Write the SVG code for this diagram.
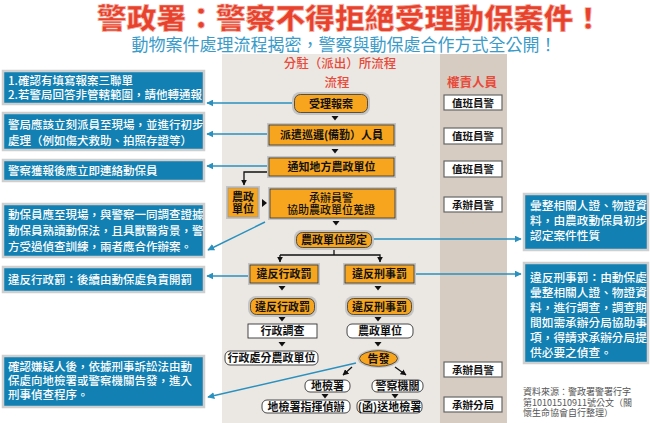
<svg xmlns="http://www.w3.org/2000/svg" width="650" height="423" viewBox="0 0 650 423">
<defs>
<style>
text{font-family:"Noto Sans CJK TC","Noto Sans CJK SC",sans-serif;}
.title{font-size:28px;font-weight:900;fill:#e8412c;stroke:#f3b3a8;stroke-width:0.7;}
.sub{font-size:17px;fill:#3a9bc9;}
.head{font-size:12.5px;fill:#e84a3a;font-weight:500;}
.bt{font-size:11.5px;fill:#fff;font-weight:500;}
.nt{font-size:11px;font-weight:700;fill:#111;text-anchor:middle;}
.rt{font-size:10.5px;font-weight:700;fill:#111;text-anchor:middle;}
.src{font-size:9px;fill:#555;}
.blue{fill:#1280b2;stroke:#cfcfcf;stroke-width:2.5;}
.halo{fill:#c4c4c4;}
.org{fill:#f7a51e;stroke:#333;stroke-width:0.8;}
.wht{fill:#fff;stroke:#333;stroke-width:0.9;}
.rbox{fill:#fff;stroke:#666;stroke-width:1.2;}
.bl{stroke:#2a91bf;stroke-width:1.4;fill:none;marker-end:url(#ab);}
.kl{stroke:#111;stroke-width:1.3;fill:none;marker-end:url(#ak);}
</style>
<marker id="ab" viewBox="0 0 10 10" refX="9" refY="5" markerWidth="7" markerHeight="7" markerUnits="userSpaceOnUse" orient="auto"><path d="M0,0 L10,5 L0,10 Z" fill="#2a91bf"/></marker>
<marker id="ak" viewBox="0 0 10 10" refX="9" refY="5" markerWidth="6" markerHeight="6" markerUnits="userSpaceOnUse" orient="auto"><path d="M0,0 L10,5 L0,10 Z" fill="#111"/></marker>
<path id="tri" d="M-3.5,0 L3.5,0 L0,4.5 Z" fill="#111"/>
</defs>
<rect width="650" height="423" fill="#fff"/>
<rect x="222" y="54" width="218" height="369" fill="#ebe8e4"/>
<rect x="440" y="54" width="67" height="369" fill="#d6ccc2"/>
<text class="title" x="97" y="29" textLength="506" lengthAdjust="spacingAndGlyphs">警政署：警察不得拒絕受理動保案件！</text>
<text class="sub" x="344" y="50.5" text-anchor="middle">動物案件處理流程揭密，警察與動保處合作方式全公開！</text>
<text class="head" x="340" y="68" text-anchor="middle">分駐（派出）所流程</text>
<text class="head" x="337" y="86.5" text-anchor="middle">流程</text>
<text class="head" x="472" y="86.5" text-anchor="middle" style="font-weight:700">權責人員</text>

<g id="connectors">
<line class="bl" x1="293" y1="103" x2="207" y2="103"/>
<line class="bl" x1="268" y1="134" x2="207" y2="134"/>
<line class="bl" x1="268" y1="166" x2="207" y2="166"/>
<line class="bl" x1="265" y1="222" x2="208" y2="250"/>
<line class="bl" x1="249" y1="276" x2="207" y2="276"/>
<line class="bl" x1="356" y1="363" x2="208" y2="397"/>
<line class="bl" x1="373" y1="239" x2="521" y2="239"/>
<line class="bl" x1="415" y1="274" x2="521" y2="274"/>
<polyline class="kl" points="268,172 244,172 244,185"/>
<line x1="334" y1="249" x2="334" y2="255" stroke="#111" stroke-width="1.3"/>
<polyline class="kl" points="280,255 380,255 380,262"/>
<line class="kl" x1="280" y1="255" x2="280" y2="262"/>
<line class="kl" x1="352" y1="367" x2="343" y2="375"/>
<line class="kl" x1="395" y1="367" x2="406" y2="375"/>
<use href="#tri" x="335" y="116"/>
<use href="#tri" x="335" y="149"/>
<use href="#tri" x="336" y="221"/>
<path d="M262,199 L267,203 L262,207 Z" fill="#111"/>
<use href="#tri" x="282" y="286"/>
<use href="#tri" x="378" y="286"/>
<use href="#tri" x="282" y="317"/>
<use href="#tri" x="378" y="317"/>
<use href="#tri" x="282" y="342"/>
<use href="#tri" x="378" y="342"/>
<use href="#tri" x="325" y="394"/>
<use href="#tri" x="395" y="394"/>
</g>

<g id="note1"><rect class="blue" x="3" y="71" width="201" height="33"/>
<text class="bt" x="8" y="85">1.確認有填寫報案三聯單</text>
<text class="bt" x="8" y="99">2.若警局回答非管轄範圍，請他轉通報</text></g>
<g id="note2"><rect class="blue" x="3" y="113" width="201" height="37"/>
<text class="bt" x="8" y="129">警局應該立刻派員至現場，並進行初步</text>
<text class="bt" x="8" y="145">處理（例如傷犬救助、拍照存證等）</text></g>
<g id="note3"><rect class="blue" x="3" y="160" width="201" height="21"/>
<text class="bt" x="8" y="174.5">警察獲報後應立即連絡動保員</text></g>
<g id="note4"><rect class="blue" x="3" y="204" width="201" height="53"/>
<text class="bt" x="8" y="219">動保員應至現場，與警察一同調查證據</text>
<text class="bt" x="8" y="235">動保員熟讀動保法，且具獸醫背景，警</text>
<text class="bt" x="8" y="251">方受過偵查訓練，兩者應合作辦案。</text></g>
<g id="note5"><rect class="blue" x="3" y="267" width="201" height="25"/>
<text class="bt" x="8" y="283.5">違反行政罰：後續由動保處負責開罰</text></g>
<g id="note6"><rect class="blue" x="3" y="356" width="201" height="51"/>
<text class="bt" x="8" y="371">確認嫌疑人後，依據刑事訴訟法由動</text>
<text class="bt" x="8" y="385">保處向地檢署或警察機關告發，進入</text>
<text class="bt" x="8" y="399">刑事偵查程序。</text></g>

<g id="note7"><rect class="blue" x="524" y="194" width="124" height="56"/>
<text class="bt" x="530" y="209.5" style="font-size:11.7px">彙整相關人證、物證資</text>
<text class="bt" x="530" y="224.5" style="font-size:11.7px">料，由農政動保員初步</text>
<text class="bt" x="530" y="239.5" style="font-size:11.7px">認定案件性質</text></g>
<g id="note8"><rect class="blue" x="524" y="263" width="124" height="100"/>
<text class="bt" x="530" y="282" style="font-size:11.7px">違反刑事罰：由動保處</text>
<text class="bt" x="530" y="297" style="font-size:11.7px">彙整相關人證、物證資</text>
<text class="bt" x="530" y="312" style="font-size:11.7px">料，進行調查，調查期</text>
<text class="bt" x="530" y="327" style="font-size:11.7px">間如需承辦分局協助事</text>
<text class="bt" x="530" y="342" style="font-size:11.7px">項，得請求承辦分局提</text>
<text class="bt" x="530" y="356.5" style="font-size:11.7px">供必要之偵查。</text></g>
<g id="source">
<text class="src" x="523" y="395">資料來源：警政署警署行字</text>
<text class="src" x="523" y="405.5">第10101510911號公文（關</text>
<text class="src" x="523" y="416">懷生命協會自行整理）</text></g>

<g id="r1"><rect class="rbox" x="444" y="95" width="58" height="15"/><text class="rt" x="473" y="106.5">值班員警</text></g>
<g id="r2"><rect class="rbox" x="444" y="128" width="58" height="16"/><text class="rt" x="473" y="140">值班員警</text></g>
<g id="r3"><rect class="rbox" x="444" y="161" width="58" height="16"/><text class="rt" x="473" y="173">值班員警</text></g>
<g id="r4"><rect class="rbox" x="444" y="197" width="58" height="15"/><text class="rt" x="473" y="208.5">承辦員警</text></g>
<g id="r5"><rect class="rbox" x="444" y="362" width="58" height="15"/><text class="rt" x="473" y="373.5">承辦員警</text></g>
<g id="r6"><rect class="rbox" x="444" y="397" width="58" height="15"/><text class="rt" x="473" y="408.5">承辦分局</text></g>

<g id="n1"><rect class="halo" x="292" y="92" width="78" height="23" rx="8"/><rect class="org" x="294.5" y="94.5" width="73" height="18" rx="6"/><text class="nt" x="331" y="107.5">受理報案</text></g>
<g id="n2"><rect class="halo" x="267" y="123" width="129" height="24"/><rect class="org" x="269" y="125" width="125" height="20"/><text class="nt" x="331.5" y="139">派遣巡邏(備勤）人員</text></g>
<g id="n3"><rect class="halo" x="267" y="156" width="129" height="22"/><rect class="org" x="269" y="158" width="125" height="18"/><text class="nt" x="331.5" y="171">通知地方農政單位</text></g>
<g id="n4"><rect class="halo" x="226" y="186" width="34" height="33"/><rect class="org" x="228" y="188" width="30" height="29" style="stroke:#999"/><text class="nt" x="243" y="201">農政</text><text class="nt" x="243" y="213">單位</text></g>
<g id="n5"><rect class="halo" x="268" y="187" width="129" height="33"/><rect class="org" x="270" y="189" width="125" height="29"/><text class="nt" x="331" y="201.5" style="font-weight:500">承辦員警</text><text class="nt" x="331" y="214" style="font-weight:500">協助農政單位蒐證</text></g>
<g id="n6"><rect class="halo" x="294" y="230" width="80" height="20" rx="8"/><rect class="org" x="296.5" y="232.5" width="75" height="15" rx="6"/><text class="nt" x="334" y="244">農政單位認定</text></g>
<g id="n7"><rect class="halo" x="248" y="263" width="72" height="22"/><rect class="org" x="250" y="265" width="68" height="18"/><text class="nt" x="284" y="278">違反行政罰</text></g>
<g id="n8"><rect class="halo" x="343" y="263" width="73" height="22"/><rect class="org" x="345" y="265" width="69" height="18"/><text class="nt" x="379.5" y="278">違反刑事罰</text></g>
<g id="n9"><rect class="halo" x="248" y="296" width="69" height="21" rx="8"/><rect class="org" x="250.5" y="298.5" width="64" height="16" rx="6"/><text class="nt" x="282.5" y="310.5">違反行政罰</text></g>
<g id="n10"><rect class="halo" x="345" y="296" width="69" height="21" rx="8"/><rect class="org" x="347.5" y="298.5" width="64" height="16" rx="6"/><text class="nt" x="379.5" y="310.5">違反刑事罰</text></g>
<g id="n11"><rect class="wht" x="248" y="324" width="69" height="14"/><text class="nt" x="282.5" y="335">行政調查</text></g>
<g id="n12"><rect class="wht" x="347" y="324" width="66" height="14" rx="5"/><text class="nt" x="380" y="335">農政單位</text></g>
<g id="n13"><rect class="wht" x="225" y="351" width="93" height="14" rx="5"/><text class="nt" x="271.5" y="362">行政處分農政單位</text></g>
<g id="n14"><ellipse cx="378.5" cy="358.5" rx="21" ry="9.5" fill="#c4c4c4"/><ellipse class="org" cx="378.5" cy="358.5" rx="19" ry="7.8"/><text class="nt" x="378.5" y="362.5">告發</text></g>
<g id="n15"><rect class="wht" x="305" y="380" width="45" height="12" rx="5"/><text class="nt" x="327.5" y="390">地檢署</text></g>
<g id="n16"><rect class="wht" x="372" y="380" width="51" height="12" rx="5"/><text class="nt" x="397.5" y="390">警察機關</text></g>
<g id="n17"><rect class="wht" x="262" y="400" width="88" height="13" rx="5"/><text class="nt" x="306" y="410.5">地檢署指揮偵辦</text></g>
<g id="n18"><rect class="wht" x="357" y="400" width="65" height="13" rx="5"/><text class="nt" x="389.5" y="410.5">(函)送地檢署</text></g>
</svg>
